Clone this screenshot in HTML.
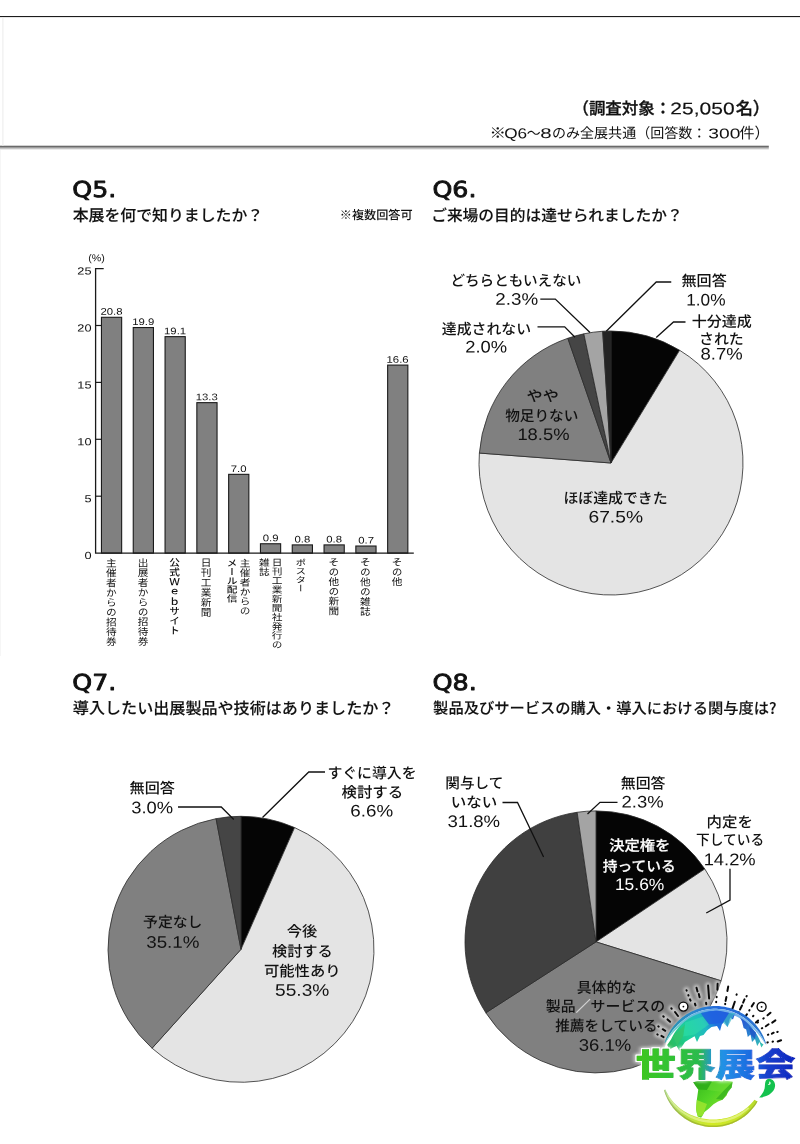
<!DOCTYPE html>
<html lang="ja">
<head>
<meta charset="utf-8">
<title>来場者アンケート Q5-Q8</title>
<style>
html,body{margin:0;padding:0;background:#fff}
body{width:800px;height:1144px;overflow:hidden;font-family:"Liberation Sans","Noto Sans CJK JP",sans-serif}
svg{display:block}
text{white-space:pre}
</style>
</head>
<body>
<svg width="800" height="1144" viewBox="0 0 800 1144">
<rect width="800" height="1144" fill="#fff"/>
<g id="shapes">
<rect x="0" y="16" width="800" height="1.1" fill="#1c1c1c"/>
<rect x="0" y="145.7" width="768.8" height="1.3" fill="#6a6a6a"/>
<rect x="0" y="147" width="768.8" height="1" fill="#9c9c9c"/>
<rect x="0" y="148" width="768.8" height="1" fill="#c4c4c4"/>
<rect x="0" y="149" width="768.8" height="0.8" fill="#e6e6e6"/>
<rect x="2.4" y="17" width="1" height="129" fill="#ececec"/>
<rect x="0" y="150" width="1" height="506" fill="#f6f6f6"/>
<rect x="101.45" y="317.30" width="20.20" height="235.80" fill="#808080" stroke="#1a1a1a" stroke-width="1.1"/>
<rect x="133.25" y="327.54" width="20.20" height="225.56" fill="#808080" stroke="#1a1a1a" stroke-width="1.1"/>
<rect x="165.05" y="336.64" width="20.20" height="216.46" fill="#808080" stroke="#1a1a1a" stroke-width="1.1"/>
<rect x="196.85" y="402.65" width="20.20" height="150.45" fill="#808080" stroke="#1a1a1a" stroke-width="1.1"/>
<rect x="228.65" y="474.34" width="20.20" height="78.76" fill="#808080" stroke="#1a1a1a" stroke-width="1.1"/>
<rect x="260.45" y="543.76" width="20.20" height="9.34" fill="#808080" stroke="#1a1a1a" stroke-width="1.1"/>
<rect x="292.25" y="544.90" width="20.20" height="8.20" fill="#808080" stroke="#1a1a1a" stroke-width="1.1"/>
<rect x="324.05" y="544.90" width="20.20" height="8.20" fill="#808080" stroke="#1a1a1a" stroke-width="1.1"/>
<rect x="355.85" y="546.03" width="20.20" height="7.07" fill="#808080" stroke="#1a1a1a" stroke-width="1.1"/>
<rect x="387.65" y="365.09" width="20.20" height="188.01" fill="#808080" stroke="#1a1a1a" stroke-width="1.1"/>
<path d="M103.7 268.6H95.6V553.1H413.8" fill="none" stroke="#1a1a1a" stroke-width="1.3"/>
<path d="M95.6 325.50H101" stroke="#1a1a1a" stroke-width="1.2"/>
<path d="M95.6 382.40H101" stroke="#1a1a1a" stroke-width="1.2"/>
<path d="M95.6 439.30H101" stroke="#1a1a1a" stroke-width="1.2"/>
<path d="M95.6 496.20H101" stroke="#1a1a1a" stroke-width="1.2"/>
<path d="M611 463L611.00 331.00A132 132 0 0 1 679.62 350.24Z" fill="#050505" stroke="#2a2a2a" stroke-width="0.8" stroke-linejoin="round"/>
<path d="M611 463L679.62 350.24A132 132 0 1 1 479.38 453.06Z" fill="#e4e4e4" stroke="#2a2a2a" stroke-width="0.8" stroke-linejoin="round"/>
<path d="M611 463L479.38 453.06A132 132 0 0 1 567.85 338.25Z" fill="#808080" stroke="#2a2a2a" stroke-width="0.8" stroke-linejoin="round"/>
<path d="M611 463L567.85 338.25A132 132 0 0 1 583.83 333.83Z" fill="#454545" stroke="#2a2a2a" stroke-width="0.8" stroke-linejoin="round"/>
<path d="M611 463L583.83 333.83A132 132 0 0 1 602.71 331.26Z" fill="#a4a4a4" stroke="#2a2a2a" stroke-width="0.8" stroke-linejoin="round"/>
<path d="M611 463L602.71 331.26A132 132 0 0 1 611.00 331.00Z" fill="#242424" stroke="#2a2a2a" stroke-width="0.8" stroke-linejoin="round"/>
<path d="M241 949.3L241.00 816.30A133 133 0 0 1 294.59 827.57Z" fill="#050505" stroke="#2a2a2a" stroke-width="0.8" stroke-linejoin="round"/>
<path d="M241 949.3L294.59 827.57A133 133 0 1 1 152.09 1048.22Z" fill="#e4e4e4" stroke="#2a2a2a" stroke-width="0.8" stroke-linejoin="round"/>
<path d="M241 949.3L152.09 1048.22A133 133 0 0 1 216.08 818.66Z" fill="#808080" stroke="#2a2a2a" stroke-width="0.8" stroke-linejoin="round"/>
<path d="M241 949.3L216.08 818.66A133 133 0 0 1 241.00 816.30Z" fill="#454545" stroke="#2a2a2a" stroke-width="0.8" stroke-linejoin="round"/>
<path d="M596 941.9L596.00 810.90A131 131 0 0 1 704.81 868.95Z" fill="#050505" stroke="#2a2a2a" stroke-width="0.8" stroke-linejoin="round"/>
<path d="M596 941.9L704.81 868.95A131 131 0 0 1 721.09 980.81Z" fill="#e4e4e4" stroke="#2a2a2a" stroke-width="0.8" stroke-linejoin="round"/>
<path d="M596 941.9L721.09 980.81A131 131 0 0 1 485.84 1012.79Z" fill="#808080" stroke="#2a2a2a" stroke-width="0.8" stroke-linejoin="round"/>
<path d="M596 941.9L485.84 1012.79A131 131 0 0 1 577.13 812.27Z" fill="#404040" stroke="#2a2a2a" stroke-width="0.8" stroke-linejoin="round"/>
<path d="M596 941.9L577.13 812.27A131 131 0 0 1 596.00 810.90Z" fill="#a4a4a4" stroke="#2a2a2a" stroke-width="0.8" stroke-linejoin="round"/>
<path d="M540.3 299.1L555.3 299.1L590 332.5" fill="none" stroke="#111" stroke-width="1.3"/>
<path d="M537.5 326.9L564.7 326.9L575 337.2" fill="none" stroke="#111" stroke-width="1.3"/>
<path d="M671.25 282L656.25 282L606.25 331.25" fill="none" stroke="#111" stroke-width="1.3"/>
<path d="M685.5 322L673.5 322L656.25 337.5" fill="none" stroke="#111" stroke-width="1.3"/>
<path d="M178 807L221.25 807L233.75 819.5" fill="none" stroke="#111" stroke-width="1.3"/>
<path d="M325 772L308.75 772L262.5 817.5" fill="none" stroke="#111" stroke-width="1.3"/>
<path d="M502.5 802.5L517.5 802.5L543.6 857" fill="none" stroke="#111" stroke-width="1.3"/>
<path d="M617.5 802.3L600 802.3L587.5 814" fill="none" stroke="#111" stroke-width="1.3"/>
<path d="M730 868.75L730 900L706.25 913" fill="none" stroke="#111" stroke-width="1.3"/>
</g>
<g id="labels">
<text transform="matrix(1.0288 0.001 0 1.0288 572.43 114.16)" fill="#111" stroke="#111" stroke-width="0.32" stroke-linejoin="round" style="font-family:'Liberation Sans','Noto Sans CJK JP',sans-serif;font-size:16px;font-weight:500;">（調査対象：</text>
<text transform="matrix(1.2735 0.001 0 1.0114 670.34 114.23)" fill="#111" stroke="#111" stroke-width="0.15" stroke-linejoin="round" style="font-family:'Liberation Sans',sans-serif;font-size:16.5px;font-weight:400;">25,050</text>
<text transform="matrix(1.0762 0.001 0 1.0762 735.64 114.45)" fill="#111" stroke="#111" stroke-width="0.32" stroke-linejoin="round" style="font-family:'Liberation Sans','Noto Sans CJK JP',sans-serif;font-size:16px;font-weight:500;">名）</text>
<text transform="matrix(1.2051 0.001 0 1.0576 489.49 137.95)" fill="#111" style="font-family:'Liberation Sans','Noto Sans CJK JP',sans-serif;font-size:13.7px;font-weight:400;">※</text>
<text transform="matrix(1.2750 0.001 0 1.0632 504.15 138.22)" fill="#111" style="font-family:'Liberation Sans',sans-serif;font-size:13.5px;font-weight:400;">Q6</text>
<text transform="matrix(1.0135 0.001 0 1.0909 526.82 138.44)" fill="#111" style="font-family:'Liberation Sans','Noto Sans CJK JP',sans-serif;font-size:13.7px;font-weight:400;">〜</text>
<text transform="matrix(1.5162 0.001 0 1.0421 540.24 138.03)" fill="#111" style="font-family:'Liberation Sans',sans-serif;font-size:13.5px;font-weight:400;">8</text>
<text transform="matrix(1.0267 0.001 0 1.0267 551.90 138.00)" fill="#111" style="font-family:'Liberation Sans','Noto Sans CJK JP',sans-serif;font-size:13.7px;font-weight:400;">のみ全展共通（回答数：</text>
<text transform="matrix(1.4233 0.001 0 1.0421 708.29 138.13)" fill="#111" style="font-family:'Liberation Sans',sans-serif;font-size:13.5px;font-weight:400;">300</text>
<text transform="matrix(1.0962 0.001 0 1.0962 739.45 138.36)" fill="#111" style="font-family:'Liberation Sans','Noto Sans CJK JP',sans-serif;font-size:13.7px;font-weight:400;">件）</text>
<text transform="matrix(1.0991 0.001 0 0.9556 72.33 196.90)" fill="#111" stroke="#111" stroke-width="0.9" stroke-linejoin="round" style="font-family:'DejaVu Sans','Liberation Sans',sans-serif;font-size:23px;font-weight:400;">Q5.</text>
<text transform="matrix(1.1004 0.001 0 0.9556 432.38 196.90)" fill="#111" stroke="#111" stroke-width="0.9" stroke-linejoin="round" style="font-family:'DejaVu Sans','Liberation Sans',sans-serif;font-size:23px;font-weight:400;">Q6.</text>
<text transform="matrix(1.0991 0.001 0 0.9556 72.33 689.90)" fill="#111" stroke="#111" stroke-width="0.9" stroke-linejoin="round" style="font-family:'DejaVu Sans','Liberation Sans',sans-serif;font-size:23px;font-weight:400;">Q7.</text>
<text transform="matrix(1.1085 0.001 0 0.9556 432.38 689.90)" fill="#111" stroke="#111" stroke-width="0.9" stroke-linejoin="round" style="font-family:'DejaVu Sans','Liberation Sans',sans-serif;font-size:23px;font-weight:400;">Q8.</text>
<text transform="matrix(0.9931 0.001 0 0.9931 72.70 220.94)" fill="#111" stroke="#111" stroke-width="0.1" stroke-linejoin="round" style="font-family:'Liberation Sans','Noto Sans CJK JP',sans-serif;font-size:16px;font-weight:500;">本展を何で知りましたか？</text>
<text transform="matrix(0.9835 0.001 0 0.9835 431.17 220.88)" fill="#111" stroke="#111" stroke-width="0.1" stroke-linejoin="round" style="font-family:'Liberation Sans','Noto Sans CJK JP',sans-serif;font-size:16px;font-weight:500;">ご来場の目的は達せられましたか？</text>
<text transform="matrix(1.0062 0.001 0 1.0062 72.83 713.82)" fill="#111" stroke="#111" stroke-width="0.1" stroke-linejoin="round" style="font-family:'Liberation Sans','Noto Sans CJK JP',sans-serif;font-size:16px;font-weight:500;">導入したい出展製品や技術はありましたか？</text>
<text transform="matrix(0.9555 0.001 0 0.9555 433.12 713.51)" fill="#111" stroke="#111" stroke-width="0.1" stroke-linejoin="round" style="font-family:'Noto Sans CJK JP',sans-serif;font-size:16px;font-weight:500;">製品及びサービスの購入・導入における関与度は?</text>
<text transform="matrix(1.0393 0.001 0 1.0393 339.77 219.28)" fill="#111" style="font-family:'Liberation Sans','Noto Sans CJK JP',sans-serif;font-size:11.7px;font-weight:500;">※複数回答可</text>
<text transform="matrix(1.2787 0.001 0 1.0286 77.36 274.60)" fill="#111" style="font-family:'Liberation Sans',sans-serif;font-size:10px;font-weight:400;">25</text>
<text transform="matrix(1.2787 0.001 0 1.0286 77.36 331.50)" fill="#111" style="font-family:'Liberation Sans',sans-serif;font-size:10px;font-weight:400;">20</text>
<text transform="matrix(1.2787 0.001 0 1.0286 77.36 388.40)" fill="#111" style="font-family:'Liberation Sans',sans-serif;font-size:10px;font-weight:400;">15</text>
<text transform="matrix(1.2787 0.001 0 1.0286 77.36 445.30)" fill="#111" style="font-family:'Liberation Sans',sans-serif;font-size:10px;font-weight:400;">10</text>
<text transform="matrix(1.2787 0.001 0 1.0286 84.39 502.20)" fill="#111" style="font-family:'Liberation Sans',sans-serif;font-size:10px;font-weight:400;">5</text>
<text transform="matrix(1.2787 0.001 0 1.0286 84.39 559.10)" fill="#111" style="font-family:'Liberation Sans',sans-serif;font-size:10px;font-weight:400;">0</text>
<text transform="matrix(1.2575 0.001 0 1.1745 88.17 261.14)" fill="#111" style="font-family:'Liberation Sans',sans-serif;font-size:8.5px;font-weight:400;">(%)</text>
<text transform="matrix(1.2600 0.001 0 1.0579 100.42 314.85)" fill="#111" style="font-family:'Liberation Sans',sans-serif;font-size:9px;font-weight:400;">20.8</text>
<text transform="matrix(1.2600 0.001 0 1.0579 132.22 325.09)" fill="#111" style="font-family:'Liberation Sans',sans-serif;font-size:9px;font-weight:400;">19.9</text>
<text transform="matrix(1.2600 0.001 0 1.0579 164.02 334.19)" fill="#111" style="font-family:'Liberation Sans',sans-serif;font-size:9px;font-weight:400;">19.1</text>
<text transform="matrix(1.2600 0.001 0 1.0579 195.72 400.20)" fill="#111" style="font-family:'Liberation Sans',sans-serif;font-size:9px;font-weight:400;">13.3</text>
<text transform="matrix(1.2600 0.001 0 1.0579 230.77 471.89)" fill="#111" style="font-family:'Liberation Sans',sans-serif;font-size:9px;font-weight:400;">7.0</text>
<text transform="matrix(1.2600 0.001 0 1.0579 262.78 541.31)" fill="#111" style="font-family:'Liberation Sans',sans-serif;font-size:9px;font-weight:400;">0.9</text>
<text transform="matrix(1.2600 0.001 0 1.0579 294.48 542.45)" fill="#111" style="font-family:'Liberation Sans',sans-serif;font-size:9px;font-weight:400;">0.8</text>
<text transform="matrix(1.2600 0.001 0 1.0579 326.27 542.45)" fill="#111" style="font-family:'Liberation Sans',sans-serif;font-size:9px;font-weight:400;">0.8</text>
<text transform="matrix(1.2600 0.001 0 1.0579 358.18 543.58)" fill="#111" style="font-family:'Liberation Sans',sans-serif;font-size:9px;font-weight:400;">0.7</text>
<text transform="matrix(1.2600 0.001 0 1.0579 386.52 362.64)" fill="#111" style="font-family:'Liberation Sans',sans-serif;font-size:9px;font-weight:400;">16.6</text>
<text transform="matrix(1.1000 0.001 0 1.0125 110.24 558.11)" fill="#111" style="font-family:'Liberation Sans','Noto Sans CJK JP',sans-serif;font-size:9.7px;font-weight:400;writing-mode:vertical-rl;">主催者からの招待券</text>
<text transform="matrix(1.1000 0.001 0 1.0110 142.10 557.94)" fill="#111" style="font-family:'Liberation Sans','Noto Sans CJK JP',sans-serif;font-size:9.7px;font-weight:400;writing-mode:vertical-rl;">出展者からの招待券</text>
<text transform="matrix(1.1000 0.001 0 1.0000 173.55 557.53)" fill="#111" style="font-family:'Liberation Sans','Noto Sans CJK JP',sans-serif;font-size:9.7px;font-weight:500;writing-mode:vertical-rl;">公式Ｗｅｂサイト</text>
<text transform="matrix(1.1000 0.001 0 1.0276 205.15 557.47)" fill="#111" style="font-family:'Liberation Sans','Noto Sans CJK JP',sans-serif;font-size:9.7px;font-weight:400;writing-mode:vertical-rl;">日刊工業新聞</text>
<text transform="matrix(1.1000 0.001 0 0.9818 243.94 558.27)" fill="#111" style="font-family:'Liberation Sans','Noto Sans CJK JP',sans-serif;font-size:9.7px;font-weight:400;writing-mode:vertical-rl;">主催者からの</text>
<text transform="matrix(1.1000 0.001 0 0.9170 231.44 558.33)" fill="#111" style="font-family:'Liberation Sans','Noto Sans CJK JP',sans-serif;font-size:9.7px;font-weight:500;writing-mode:vertical-rl;">メール配信</text>
<text transform="matrix(1.1000 0.001 0 0.9421 275.94 557.66)" fill="#111" style="font-family:'Liberation Sans','Noto Sans CJK JP',sans-serif;font-size:9.7px;font-weight:400;writing-mode:vertical-rl;">日刊工業新聞社発行の</text>
<text transform="matrix(1.1000 0.001 0 0.9459 263.35 557.98)" fill="#111" style="font-family:'Liberation Sans','Noto Sans CJK JP',sans-serif;font-size:9.7px;font-weight:400;writing-mode:vertical-rl;">雑誌</text>
<text transform="matrix(1.1000 0.001 0 0.8744 300.35 558.31)" fill="#111" style="font-family:'Liberation Sans','Noto Sans CJK JP',sans-serif;font-size:9.7px;font-weight:400;writing-mode:vertical-rl;">ポスター</text>
<text transform="matrix(1.1000 0.001 0 1.0094 332.84 557.02)" fill="#111" style="font-family:'Liberation Sans','Noto Sans CJK JP',sans-serif;font-size:9.7px;font-weight:400;writing-mode:vertical-rl;">その他の新聞</text>
<text transform="matrix(1.1000 0.001 0 1.0177 364.34 557.01)" fill="#111" style="font-family:'Liberation Sans','Noto Sans CJK JP',sans-serif;font-size:9.7px;font-weight:400;writing-mode:vertical-rl;">その他の雑誌</text>
<text transform="matrix(1.1000 0.001 0 1.0109 396.04 557.02)" fill="#111" style="font-family:'Liberation Sans','Noto Sans CJK JP',sans-serif;font-size:9.7px;font-weight:400;writing-mode:vertical-rl;">その他</text>
<text transform="matrix(0.9987 0.001 0 1.0100 450.42 285.64)" fill="#111" style="font-family:'Liberation Sans','Noto Sans CJK JP',sans-serif;font-size:14.6px;font-weight:500;">どちらともいえない</text>
<text transform="matrix(1.1899 0.001 0 1.0567 495.26 304.65)" fill="#111" style="font-family:'Liberation Sans',sans-serif;font-size:15.8px;font-weight:400;">2.3%</text>
<text transform="matrix(1.0203 0.001 0 1.0100 441.74 334.13)" fill="#111" style="font-family:'Liberation Sans','Noto Sans CJK JP',sans-serif;font-size:14.6px;font-weight:500;">達成されない</text>
<text transform="matrix(1.1639 0.001 0 1.0567 465.28 352.55)" fill="#111" style="font-family:'Liberation Sans',sans-serif;font-size:15.8px;font-weight:400;">2.0%</text>
<text transform="matrix(1.0331 0.001 0 1.0100 681.48 285.97)" fill="#111" style="font-family:'Liberation Sans','Noto Sans CJK JP',sans-serif;font-size:14.6px;font-weight:500;">無回答</text>
<text transform="matrix(1.0922 0.001 0 1.0567 686.23 305.57)" fill="#111" style="font-family:'Liberation Sans',sans-serif;font-size:15.8px;font-weight:400;">1.0%</text>
<text transform="matrix(1.0307 0.001 0 1.0100 691.64 326.81)" fill="#111" style="font-family:'Liberation Sans','Noto Sans CJK JP',sans-serif;font-size:14.6px;font-weight:500;">十分達成</text>
<text transform="matrix(1.0227 0.001 0 1.0100 699.03 344.14)" fill="#111" style="font-family:'Liberation Sans','Noto Sans CJK JP',sans-serif;font-size:14.6px;font-weight:500;">された</text>
<text transform="matrix(1.1699 0.001 0 1.0567 700.47 359.42)" fill="#111" style="font-family:'Liberation Sans',sans-serif;font-size:15.8px;font-weight:400;">8.7%</text>
<text transform="matrix(1.1043 0.001 0 1.0100 526.58 401.24)" fill="#111" style="font-family:'Liberation Sans','Noto Sans CJK JP',sans-serif;font-size:14.6px;font-weight:500;">やや</text>
<text transform="matrix(1.0047 0.001 0 1.0100 505.17 420.89)" fill="#111" style="font-family:'Liberation Sans','Noto Sans CJK JP',sans-serif;font-size:14.6px;font-weight:500;">物足りない</text>
<text transform="matrix(1.1628 0.001 0 1.0567 517.39 440.07)" fill="#111" style="font-family:'Liberation Sans',sans-serif;font-size:15.8px;font-weight:400;">18.5%</text>
<text transform="matrix(1.0193 0.001 0 1.0100 563.47 503.31)" fill="#111" style="font-family:'Liberation Sans','Noto Sans CJK JP',sans-serif;font-size:14.6px;font-weight:500;">ほぼ達成できた</text>
<text transform="matrix(1.2196 0.001 0 1.0567 588.43 522.52)" fill="#111" style="font-family:'Liberation Sans',sans-serif;font-size:15.8px;font-weight:400;">67.5%</text>
<text transform="matrix(1.0389 0.001 0 1.0100 129.48 793.22)" fill="#111" style="font-family:'Liberation Sans','Noto Sans CJK JP',sans-serif;font-size:14.6px;font-weight:500;">無回答</text>
<text transform="matrix(1.1627 0.001 0 1.0567 131.22 813.22)" fill="#111" style="font-family:'Liberation Sans',sans-serif;font-size:15.8px;font-weight:400;">3.0%</text>
<text transform="matrix(1.0187 0.001 0 1.0100 327.39 778.14)" fill="#111" style="font-family:'Liberation Sans','Noto Sans CJK JP',sans-serif;font-size:14.6px;font-weight:500;">すぐに導入を</text>
<text transform="matrix(1.0580 0.001 0 1.0100 341.47 797.55)" fill="#111" style="font-family:'Liberation Sans','Noto Sans CJK JP',sans-serif;font-size:14.6px;font-weight:500;">検討する</text>
<text transform="matrix(1.1899 0.001 0 1.0567 350.26 816.60)" fill="#111" style="font-family:'Liberation Sans',sans-serif;font-size:15.8px;font-weight:400;">6.6%</text>
<text transform="matrix(1.0163 0.001 0 1.0100 143.07 927.28)" fill="#111" style="font-family:'Liberation Sans','Noto Sans CJK JP',sans-serif;font-size:14.6px;font-weight:500;">予定なし</text>
<text transform="matrix(1.1897 0.001 0 1.0567 146.21 947.65)" fill="#111" style="font-family:'Liberation Sans',sans-serif;font-size:15.8px;font-weight:400;">35.1%</text>
<text transform="matrix(1.0482 0.001 0 1.0100 286.78 936.50)" fill="#111" style="font-family:'Liberation Sans','Noto Sans CJK JP',sans-serif;font-size:14.6px;font-weight:500;">今後</text>
<text transform="matrix(1.0411 0.001 0 1.0100 271.98 956.45)" fill="#111" style="font-family:'Liberation Sans','Noto Sans CJK JP',sans-serif;font-size:14.6px;font-weight:500;">検討する</text>
<text transform="matrix(1.0500 0.001 0 1.0100 263.93 976.19)" fill="#111" style="font-family:'Liberation Sans','Noto Sans CJK JP',sans-serif;font-size:14.6px;font-weight:500;">可能性あり</text>
<text transform="matrix(1.2138 0.001 0 1.0567 274.99 995.82)" fill="#111" style="font-family:'Liberation Sans',sans-serif;font-size:15.8px;font-weight:400;">55.3%</text>
<text transform="matrix(1.0018 0.001 0 1.0100 445.33 788.14)" fill="#111" style="font-family:'Liberation Sans','Noto Sans CJK JP',sans-serif;font-size:14.6px;font-weight:500;">関与して</text>
<text transform="matrix(1.0640 0.001 0 1.0100 450.83 807.43)" fill="#111" style="font-family:'Liberation Sans','Noto Sans CJK JP',sans-serif;font-size:14.6px;font-weight:500;">いない</text>
<text transform="matrix(1.1759 0.001 0 1.0567 447.47 826.97)" fill="#111" style="font-family:'Liberation Sans',sans-serif;font-size:15.8px;font-weight:400;">31.8%</text>
<text transform="matrix(1.0214 0.001 0 1.0100 620.74 788.47)" fill="#111" style="font-family:'Liberation Sans','Noto Sans CJK JP',sans-serif;font-size:14.6px;font-weight:500;">無回答</text>
<text transform="matrix(1.1683 0.001 0 1.0567 621.53 807.60)" fill="#111" style="font-family:'Liberation Sans',sans-serif;font-size:15.8px;font-weight:400;">2.3%</text>
<text transform="matrix(1.0592 0.001 0 1.0100 706.59 827.18)" fill="#111" style="font-family:'Liberation Sans','Noto Sans CJK JP',sans-serif;font-size:14.6px;font-weight:500;">内定を</text>
<text transform="matrix(0.9373 0.001 0 1.0100 696.12 844.97)" fill="#111" style="font-family:'Liberation Sans','Noto Sans CJK JP',sans-serif;font-size:14.6px;font-weight:500;">下している</text>
<text transform="matrix(1.1628 0.001 0 1.0727 703.64 865.27)" fill="#111" style="font-family:'Liberation Sans',sans-serif;font-size:15.8px;font-weight:400;">14.2%</text>
<text transform="matrix(1.0487 0.001 0 1.0100 609.15 850.64)" fill="#fff" stroke="#fff" stroke-width="0.2" stroke-linejoin="round" style="font-family:'Liberation Sans','Noto Sans CJK JP',sans-serif;font-size:14.6px;font-weight:500;">決定権を</text>
<text transform="matrix(1.0107 0.001 0 1.0100 602.66 871.43)" fill="#fff" stroke="#fff" stroke-width="0.2" stroke-linejoin="round" style="font-family:'Liberation Sans','Noto Sans CJK JP',sans-serif;font-size:14.6px;font-weight:500;">持っている</text>
<text transform="matrix(1.1047 0.001 0 1.0567 614.91 890.10)" fill="#fff" style="font-family:'Liberation Sans',sans-serif;font-size:15.8px;font-weight:400;">15.6%</text>
<text transform="matrix(1.0235 0.001 0 1.0100 576.65 992.64)" fill="#111" style="font-family:'Liberation Sans','Noto Sans CJK JP',sans-serif;font-size:14.6px;font-weight:500;">具体的な</text>
<text transform="matrix(1.0215 0.001 0 1.0100 545.82 1011.51)" fill="#111" style="font-family:'Liberation Sans','Noto Sans CJK JP',sans-serif;font-size:14.6px;font-weight:500;">製品<tspan fill="#dcdcdc" stroke="#dcdcdc" stroke-width="0.3">／</tspan>サービスの</text>
<text transform="matrix(1.0070 0.001 0 1.0100 555.16 1030.89)" fill="#111" style="font-family:'Liberation Sans','Noto Sans CJK JP',sans-serif;font-size:14.6px;font-weight:500;">推薦をしている</text>
<text transform="matrix(1.1724 0.001 0 1.0567 578.72 1050.72)" fill="#111" style="font-family:'Liberation Sans',sans-serif;font-size:15.8px;font-weight:400;">36.1%</text>
</g>
<g id="watermark">
<defs>
<filter id="wmGlow" x="-20%" y="-20%" width="140%" height="140%"><feGaussianBlur stdDeviation="3"/></filter>
<filter id="wmGlow2" x="-20%" y="-20%" width="140%" height="140%"><feGaussianBlur stdDeviation="1.8"/></filter>
<filter id="wmTextFx" x="-5%" y="-25%" width="110%" height="150%">
<feMorphology in="SourceAlpha" operator="dilate" radius="1.15" result="d"/>
<feGaussianBlur in="d" stdDeviation="0.35" result="d2"/>
<feFlood flood-color="#fff" result="w"/>
<feComposite in="w" in2="d2" operator="in" result="outline"/>
<feMorphology in="SourceAlpha" operator="dilate" radius="2" result="e"/>
<feGaussianBlur in="e" stdDeviation="1.8" result="e2"/>
<feFlood flood-color="#fff" flood-opacity="0.7" result="w2"/>
<feComposite in="w2" in2="e2" operator="in" result="glow"/>
<feMerge><feMergeNode in="glow"/><feMergeNode in="outline"/><feMergeNode in="SourceGraphic"/></feMerge>
</filter>
<linearGradient id="wmText" x1="0" y1="0" x2="1" y2="0">
<stop offset="0" stop-color="#3fc61e"/><stop offset="0.25" stop-color="#2fc238"/><stop offset="0.40" stop-color="#2cba50"/><stop offset="0.47" stop-color="#279cc0"/><stop offset="0.55" stop-color="#2390e6"/><stop offset="0.74" stop-color="#1c66e0"/><stop offset="0.82" stop-color="#1440cc"/><stop offset="1" stop-color="#1026c0"/>
</linearGradient>
<linearGradient id="wmRing" gradientUnits="userSpaceOnUse" x1="662" y1="0" x2="768" y2="0">
<stop offset="0" stop-color="#2a9aa8"/><stop offset="0.3" stop-color="#2c86cc"/><stop offset="0.55" stop-color="#2368dc"/><stop offset="1" stop-color="#2c78cc"/>
</linearGradient>
<linearGradient id="wmRingIn" gradientUnits="userSpaceOnUse" x1="662" y1="0" x2="768" y2="0">
<stop offset="0" stop-color="#6fd8c4"/><stop offset="0.45" stop-color="#6aa8ea"/><stop offset="1" stop-color="#86c2ec"/>
</linearGradient>
<linearGradient id="wmLand" gradientUnits="userSpaceOnUse" x1="668" y1="1046" x2="732" y2="1012">
<stop offset="0" stop-color="#2cb856"/><stop offset="0.3" stop-color="#1ccf98"/><stop offset="0.58" stop-color="#20b8c4"/><stop offset="0.72" stop-color="#1f72e0"/><stop offset="1" stop-color="#2a5fd6"/>
</linearGradient>
<linearGradient id="wmLand2" gradientUnits="userSpaceOnUse" x1="744" y1="1022" x2="762" y2="1046">
<stop offset="0" stop-color="#265ed2"/><stop offset="0.55" stop-color="#2c8cd0"/><stop offset="1" stop-color="#36c4b0"/>
</linearGradient>
<linearGradient id="wmSA" gradientUnits="userSpaceOnUse" x1="694" y1="1082" x2="724" y2="1112">
<stop offset="0" stop-color="#36b81c"/><stop offset="0.5" stop-color="#52d426"/><stop offset="1" stop-color="#86de2a"/>
</linearGradient>
<linearGradient id="wmLow" gradientUnits="userSpaceOnUse" x1="663" y1="0" x2="759" y2="0">
<stop offset="0" stop-color="#b4dca0"/><stop offset="0.22" stop-color="#b6e04a"/><stop offset="0.5" stop-color="#d2ea26"/><stop offset="0.8" stop-color="#c6e42a"/><stop offset="1" stop-color="#b4da2c"/>
</linearGradient>
</defs>
<g filter="url(#wmGlow2)" opacity="0.7"><circle cx="715.2" cy="1059.2" r="53.3" fill="#fff"/><circle cx="713.2" cy="1075.9" r="51.7" fill="#fff"/></g>
<circle cx="715.2" cy="1059.2" r="51.8" fill="#fff"/>
<circle cx="713.2" cy="1075.9" r="50.2" fill="#fff"/>
<g stroke="#fff" stroke-width="6" stroke-linecap="round" fill="none" opacity="0.55" filter="url(#wmGlow2)"><path d="M663.6 1037.1L661.4 1035.9"/><path d="M657.7 1034.6L657.3 1034.4"/><path d="M665.3 1030.8L662.7 1029.2"/><path d="M658.7 1026.6L658.3 1026.4"/><path d="M670.1 1021.8L667.5 1019.4"/><path d="M663.7 1016.7L663.3 1016.3"/><path d="M678.0 1016.0L675.0 1012.0"/><path d="M671.7 1008.7L671.3 1008.3"/><path d="M688.5 995.5L688.3 995.1"/><path d="M690.6 1000.7L690.0 999.3"/><path d="M686.7 990.6L686.5 990.2"/><path d="M697.5 991.6L696.5 987.8"/><path d="M699.6 997.3L698.8 993.9"/><path d="M695.5 1005.4L694.9 1003.6"/><path d="M709.1 998.5L708.1 985.5"/><path d="M706.3 1004.2L706.1 1002.8"/><path d="M717.4 989.8L717.6 983.8"/><path d="M716.6 997.2L716.6 996.8"/><path d="M716.2 1002.2L716.2 1001.8"/><path d="M727.4 991.0L728.2 986.6"/><path d="M725.6 1001.0L726.4 997.0"/><path d="M725.2 1004.2L725.2 1003.8"/><path d="M732.2 1009.4L734.8 1001.8"/><path d="M736.5 994.8L736.7 994.4"/><path d="M746.5 996.4L746.7 996.0"/><path d="M743.1 1002.6L744.5 999.4"/><path d="M740.0 1009.5L742.0 1005.5"/><path d="M738.5 1012.6L738.7 1012.2"/><path d="M751.7 1006.4L753.9 1003.0"/><path d="M749.3 1010.5L749.5 1010.1"/><path d="M745.8 1015.8L747.0 1014.2"/><path d="M753.0 1016.2L753.4 1015.8"/><path d="M755.9 1022.5L758.1 1020.5"/><path d="M767.5 1015.3L770.5 1012.7"/><path d="M757.6 1022.6L758.0 1022.2"/><path d="M763.3 1018.6L763.7 1018.2"/><path d="M772.2 1022.6L775.4 1020.4"/><path d="M765.8 1026.3L768.6 1024.3"/><path d="M761.8 1028.3L762.2 1028.1"/><path d="M777.3 1032.0L777.7 1031.8"/><path d="M767.9 1034.8L768.3 1034.6"/><path d="M771.9 1033.7L773.7 1032.7"/><path d="M777.7 1041.5L781.1 1040.3"/><path d="M772.6 1041.7L773.0 1041.5"/><path d="M767.4 1042.5L767.8 1042.3"/></g>
<g stroke="#0a0a0a" stroke-width="2" stroke-linecap="round" fill="none"><path d="M663.6 1037.1L661.4 1035.9"/><path d="M657.7 1034.6L657.3 1034.4"/><path d="M665.3 1030.8L662.7 1029.2"/><path d="M658.7 1026.6L658.3 1026.4"/><path d="M670.1 1021.8L667.5 1019.4"/><path d="M663.7 1016.7L663.3 1016.3"/><path d="M678.0 1016.0L675.0 1012.0"/><path d="M671.7 1008.7L671.3 1008.3"/><path d="M688.5 995.5L688.3 995.1"/><path d="M690.6 1000.7L690.0 999.3"/><path d="M686.7 990.6L686.5 990.2"/><path d="M697.5 991.6L696.5 987.8"/><path d="M699.6 997.3L698.8 993.9"/><path d="M695.5 1005.4L694.9 1003.6"/><path d="M709.1 998.5L708.1 985.5"/><path d="M706.3 1004.2L706.1 1002.8"/><path d="M717.4 989.8L717.6 983.8"/><path d="M716.6 997.2L716.6 996.8"/><path d="M716.2 1002.2L716.2 1001.8"/><path d="M727.4 991.0L728.2 986.6"/><path d="M725.6 1001.0L726.4 997.0"/><path d="M725.2 1004.2L725.2 1003.8"/><path d="M732.2 1009.4L734.8 1001.8"/><path d="M736.5 994.8L736.7 994.4"/><path d="M746.5 996.4L746.7 996.0"/><path d="M743.1 1002.6L744.5 999.4"/><path d="M740.0 1009.5L742.0 1005.5"/><path d="M738.5 1012.6L738.7 1012.2"/><path d="M751.7 1006.4L753.9 1003.0"/><path d="M749.3 1010.5L749.5 1010.1"/><path d="M745.8 1015.8L747.0 1014.2"/><path d="M753.0 1016.2L753.4 1015.8"/><path d="M755.9 1022.5L758.1 1020.5"/><path d="M767.5 1015.3L770.5 1012.7"/><path d="M757.6 1022.6L758.0 1022.2"/><path d="M763.3 1018.6L763.7 1018.2"/><path d="M772.2 1022.6L775.4 1020.4"/><path d="M765.8 1026.3L768.6 1024.3"/><path d="M761.8 1028.3L762.2 1028.1"/><path d="M777.3 1032.0L777.7 1031.8"/><path d="M767.9 1034.8L768.3 1034.6"/><path d="M771.9 1033.7L773.7 1032.7"/><path d="M777.7 1041.5L781.1 1040.3"/><path d="M772.6 1041.7L773.0 1041.5"/><path d="M767.4 1042.5L767.8 1042.3"/><circle cx="683.4" cy="1006.6" r="4.5" fill="#fff" stroke="#0a0a0a" stroke-width="1.4"/><circle cx="683.4" cy="1006.6" r="0.9" fill="#0a0a0a" stroke="none"/><circle cx="761.6" cy="1006.8" r="4.5" fill="#fff" stroke="#0a0a0a" stroke-width="1.4"/><circle cx="761.6" cy="1006.8" r="0.9" fill="#0a0a0a" stroke="none"/></g>
<path d="M664.6 1042.8L665.5 1040.1L666.6 1037.5L667.9 1034.9L669.2 1032.5L670.7 1030.1L672.3 1027.7L674.0 1025.5L675.9 1023.4L677.8 1021.3L679.9 1019.4L682.1 1017.6L684.3 1015.9L686.6 1014.3L689.1 1012.9L691.6 1011.5L694.1 1010.4L696.8 1009.3L699.4 1008.4L702.1 1007.6L704.9 1007.0L707.7 1006.5L710.5 1006.2L713.3 1006.0L716.1 1006.0L718.9 1006.1L721.8 1006.4L724.6 1006.8L727.3 1007.4L730.0 1008.1L732.7 1009.0L735.4 1010.0L738.0 1011.1L740.5 1012.4L742.9 1013.8L745.3 1015.3L747.6 1017.0L749.8 1018.8L751.9 1020.7L753.9 1022.7L755.8 1024.8L757.5 1027.0L759.2 1029.3L760.7 1031.6L762.1 1034.1L763.4 1036.6L764.5 1039.2L765.5 1041.8L766.3 1044.5L766.0 1044.6L764.6 1042.1L763.4 1039.7L762.0 1037.2L760.6 1034.9L759.1 1032.6L757.4 1030.5L755.7 1028.4L753.8 1026.4L751.9 1024.5L749.9 1022.7L748.0 1020.9L745.9 1019.2L743.7 1017.6L741.5 1016.2L739.2 1014.9L736.8 1013.6L734.3 1012.6L731.8 1011.6L729.3 1010.8L726.7 1010.1L724.1 1009.6L721.4 1009.2L718.8 1008.9L716.1 1008.8L713.4 1008.8L710.7 1009.0L708.1 1009.3L705.4 1009.8L702.8 1010.3L700.3 1011.1L697.7 1011.9L695.2 1012.9L692.8 1014.0L690.4 1015.3L688.2 1016.7L685.9 1018.2L683.8 1019.8L681.7 1021.5L679.7 1023.3L677.7 1025.1L675.8 1027.0L674.0 1029.0L672.3 1031.1L670.7 1033.3L669.2 1035.6L667.7 1038.0L666.4 1040.4L665.0 1042.9Z" fill="url(#wmRing)"/>
<path d="M665.5 1042.1L666.8 1039.6L668.1 1037.3L669.6 1034.9L671.1 1032.7L672.7 1030.6L674.5 1028.5L676.3 1026.5L678.2 1024.7L680.1 1022.9L682.1 1021.2L684.2 1019.5L686.3 1017.9L688.5 1016.5L690.8 1015.1L693.1 1013.9L695.5 1012.8L698.0 1011.8L700.5 1011.0L703.0 1010.3L705.6 1009.7L708.2 1009.3L710.8 1009.0L713.4 1008.8L716.1 1008.8L718.7 1008.9L721.3 1009.2L724.0 1009.6L726.5 1010.1L729.1 1010.8L731.6 1011.5L734.1 1012.5L736.5 1013.5L738.9 1014.7L741.2 1016.0L743.4 1017.4L745.5 1018.9L747.6 1020.6L749.6 1022.3L751.5 1024.1L753.4 1026.0L755.3 1027.9L757.0 1029.9L758.6 1032.1L760.2 1034.3L761.6 1036.6L763.0 1038.9L764.3 1041.3L765.5 1043.8L765.2 1043.9L763.6 1041.6L762.1 1039.3L760.5 1037.1L758.9 1035.0L757.2 1033.0L755.4 1031.0L753.6 1029.2L751.7 1027.5L749.7 1025.9L747.8 1024.2L745.9 1022.6L744.0 1021.0L741.9 1019.6L739.8 1018.2L737.6 1017.0L735.4 1015.9L733.1 1014.9L730.8 1014.0L728.4 1013.3L726.0 1012.6L723.5 1012.1L721.0 1011.8L718.5 1011.5L716.0 1011.4L713.5 1011.4L711.0 1011.6L708.5 1011.9L706.1 1012.3L703.6 1012.8L701.2 1013.5L698.9 1014.3L696.5 1015.2L694.2 1016.2L692.0 1017.4L689.9 1018.7L687.8 1020.0L685.8 1021.5L683.8 1023.1L681.9 1024.7L679.9 1026.2L677.9 1027.9L676.0 1029.7L674.1 1031.5L672.4 1033.5L670.7 1035.5L669.0 1037.7L667.4 1039.9L665.7 1042.2Z" fill="url(#wmRingIn)"/>
<path d="M671.0 1039.5L672.1 1037.2L673.3 1035.0L674.6 1032.8L676.0 1030.8L677.6 1028.7L679.2 1026.8L681.0 1025.0L682.8 1023.2L684.7 1021.6L686.8 1020.0L688.8 1018.6L691.0 1017.3L693.2 1016.1L695.5 1015.0L697.9 1014.0L700.2 1013.2L702.7 1012.4L705.1 1011.9L707.6 1011.4L710.1 1011.1L712.7 1010.9L715.2 1010.8L717.7 1010.9L720.3 1011.1L722.8 1011.4L725.3 1011.9L727.7 1012.4L730.2 1013.2L732.5 1014.0L734.9 1015.0L735.5 1012.5L733.0 1019.5L730.2 1017.5L727.5 1027.0L724.4 1021.5L721.8 1024.5L720.0 1031.0L717.0 1026.0L711.5 1027.0L707.0 1030.5L703.5 1035.0L700.0 1036.0L697.0 1042.0L694.6 1036.3L689.0 1039.5L685.0 1042.0L682.0 1046.5L679.5 1051.0L676.6 1046.0L673.0 1047.5L669.5 1049.5L667.2 1045.0Z" fill="url(#wmLand)"/>
<path d="M701 1013L717 1010.4L729 1013L723 1022.6L709 1024.6Z" fill="#1f5fe0" opacity="0.8"/>
<path d="M685 1022.6L703 1016.6L709 1024.6L695 1034.6L683 1036.6Z" fill="#32e2aa" opacity="0.5"/>
<path d="M673 1036.6L685 1024.6L683 1036.6L677 1045.6Z" fill="#38c468" opacity="0.7"/>
<path d="M703 1016.6L701 1013L709 1024.6Z" fill="#1a4eb4" opacity="0.6"/>
<path d="M723 1022.6L729 1013L735 1013L727.5 1027Z" fill="#39b8c6" opacity="0.7"/>
<path d="M740.1 1017.7L743.0 1019.6L745.7 1021.6L748.2 1023.8L750.6 1026.2L752.8 1028.7L754.8 1031.4L756.7 1034.3L758.3 1037.2L759.8 1040.3L760.7 1042.6L763.5 1044.5L761.3 1047.5L759.6 1042.0L757.2 1046.0L755.0 1039.0L752.0 1042.0L750.5 1034.5L747.8 1037.0L746.2 1029.5L743.6 1028.0L742.0 1021.5Z" fill="url(#wmLand2)"/>
<path d="M749 1026.5L756 1032.5L755 1039L750.5 1034.5Z" fill="#1c4cc4" opacity="0.7"/>
<path d="M693.2 1082.3L700.0 1080.8L712.0 1081.6L724.0 1080.4L732.6 1081.7L731.6 1087.4L728.0 1091.2L726.6 1095.6L722.5 1099.8L718.0 1101.4L713.5 1104.3L709.0 1108.6L704.5 1112.1L702.6 1115.6L701.1 1117.8L697.8 1116.6L696.6 1112.5L696.0 1108.8L696.8 1100.0L698.3 1089.6L696.0 1086.5Z" fill="url(#wmSA)"/>
<path d="M693.2 1082.3L700 1080.8L712 1081.6L707 1090L698.3 1089.6Z" fill="#2aa818" opacity="0.75"/>
<path d="M712 1081.6L724 1080.4L732.6 1081.7L722.5 1092L707 1090Z" fill="#6edc34" opacity="0.5"/>
<path d="M722.5 1092L732.6 1081.7L731.6 1087.4L722.5 1099.8L716 1099Z" fill="#2fae1c" opacity="0.7"/>
<path d="M696.8 1100L707 1104L702.6 1115.6L697.8 1116.6L696 1108.8Z" fill="#a2e630" opacity="0.8"/>
<path d="M757.5 1101.5L756.5 1103.2L755.4 1104.9L754.3 1106.5L753.0 1108.1L751.7 1109.6L750.4 1111.1L749.0 1112.5L747.5 1113.9L746.0 1115.2L744.5 1116.4L742.9 1117.6L741.2 1118.7L739.5 1119.8L737.8 1120.8L736.0 1121.7L734.2 1122.6L732.4 1123.4L730.5 1124.1L728.7 1124.7L726.7 1125.3L724.8 1125.8L722.9 1126.2L720.9 1126.5L718.9 1126.8L716.9 1127.0L714.9 1127.1L712.9 1127.1L710.9 1127.0L708.9 1126.9L707.0 1126.7L705.0 1126.4L703.0 1126.1L701.1 1125.6L699.1 1125.1L697.2 1124.5L695.4 1123.9L693.5 1123.2L691.7 1122.4L689.9 1121.5L688.1 1120.5L686.4 1119.5L684.7 1118.4L683.1 1117.3L681.5 1116.1L679.9 1114.8L678.5 1113.5L677.0 1112.1L675.6 1110.7L674.3 1109.2L673.0 1107.7L671.8 1106.1L670.7 1104.4L669.6 1102.8L668.6 1101.0L667.6 1099.3L666.8 1097.5L666.0 1095.7L665.2 1093.8L664.6 1091.9L664.0 1090.0L665.5 1089.6L666.3 1091.4L667.2 1093.1L668.1 1094.8L669.1 1096.4L670.2 1098.0L671.3 1099.5L672.5 1101.0L673.7 1102.4L675.0 1103.8L676.3 1105.1L677.6 1106.3L679.0 1107.5L680.5 1108.7L681.9 1109.7L683.4 1110.8L685.0 1111.7L686.5 1112.6L688.1 1113.5L689.6 1114.2L691.2 1115.0L692.9 1115.6L694.5 1116.3L696.1 1116.8L697.8 1117.3L699.5 1117.8L701.1 1118.2L702.8 1118.5L704.5 1118.8L706.2 1119.1L707.9 1119.2L709.6 1119.4L711.3 1119.5L713.0 1119.5L714.7 1119.5L716.4 1119.4L718.1 1119.3L719.8 1119.1L721.5 1118.9L723.1 1118.6L724.8 1118.3L726.5 1117.9L728.2 1117.4L729.8 1116.9L731.4 1116.4L733.1 1115.8L734.7 1115.1L736.3 1114.4L737.9 1113.6L739.4 1112.7L740.9 1111.8L742.5 1110.9L743.9 1109.9L745.4 1108.8L746.8 1107.7L748.2 1106.5L749.5 1105.2L750.8 1103.9L752.1 1102.6L753.3 1101.2L754.4 1099.7Z" fill="url(#wmLow)"/>
<path d="M757.5 1101.5L756.5 1103.2L755.4 1104.9L754.3 1106.5L753.0 1108.1L751.7 1109.6L750.4 1111.1L749.0 1112.5L747.5 1113.9L746.0 1115.2L744.5 1116.4L742.9 1117.6L741.2 1118.7L739.5 1119.8L737.8 1120.8L736.0 1121.7L734.2 1122.6L732.4 1123.4L730.5 1124.1L728.7 1124.7L726.7 1125.3L724.8 1125.8L722.9 1126.2L720.9 1126.5L718.9 1126.8L716.9 1127.0L714.9 1127.1L712.9 1127.1L710.9 1127.0L708.9 1126.9L707.0 1126.7L705.0 1126.4L703.0 1126.1L701.1 1125.6L699.1 1125.1L697.2 1124.5L695.4 1123.9L693.5 1123.2L691.7 1122.4L689.9 1121.5L688.1 1120.5L686.4 1119.5L684.7 1118.4L683.1 1117.3L681.5 1116.1L679.9 1114.8L678.5 1113.5L677.0 1112.1L675.6 1110.7L674.3 1109.2L673.0 1107.7L671.8 1106.1L670.7 1104.4L669.6 1102.8L668.6 1101.0L667.6 1099.3L666.8 1097.5L666.0 1095.7L665.2 1093.8L664.6 1091.9L664.0 1090.0L664.4 1089.9L665.1 1091.8L665.8 1093.6L666.6 1095.4L667.4 1097.2L668.4 1098.9L669.3 1100.6L670.4 1102.3L671.5 1103.9L672.7 1105.4L673.9 1106.9L675.2 1108.4L676.6 1109.8L678.0 1111.2L679.4 1112.5L680.9 1113.7L682.4 1114.9L684.0 1116.1L685.6 1117.2L687.2 1118.2L688.9 1119.2L690.6 1120.1L692.3 1121.0L694.1 1121.8L695.9 1122.5L697.7 1123.1L699.6 1123.7L701.4 1124.2L703.3 1124.6L705.2 1125.0L707.1 1125.2L709.1 1125.4L711.0 1125.6L712.9 1125.6L714.9 1125.6L716.8 1125.5L718.7 1125.3L720.7 1125.0L722.6 1124.7L724.5 1124.3L726.3 1123.8L728.2 1123.3L730.0 1122.7L731.8 1122.0L733.6 1121.2L735.4 1120.4L737.1 1119.5L738.8 1118.5L740.4 1117.5L742.0 1116.4L743.6 1115.2L745.1 1114.0L746.5 1112.8L748.0 1111.5L749.4 1110.1L750.7 1108.7L752.0 1107.3L753.3 1105.8L754.5 1104.2L755.6 1102.6L756.7 1101.0Z" fill="#8c9a2c" opacity="0.55"/>
<path d="M749.3 1108.4L748.1 1109.5L746.9 1110.6L745.6 1111.6L744.3 1112.6L743.0 1113.6L741.7 1114.5L740.3 1115.4L738.9 1116.2L737.5 1117.0L736.0 1117.7L734.6 1118.4L733.1 1119.0L731.6 1119.6L730.1 1120.1L728.6 1120.6L727.1 1121.1L725.5 1121.5L724.0 1121.8L722.4 1122.1L720.8 1122.4L719.3 1122.6L717.7 1122.7L716.1 1122.8L714.5 1122.9L712.9 1122.9L711.3 1122.9L709.8 1122.8L708.2 1122.7L706.6 1122.5L705.0 1122.3L703.5 1122.0L701.9 1121.7L700.3 1121.3L698.8 1120.9L697.3 1120.5L695.8 1120.0L694.3 1119.4L692.8 1118.8L691.3 1118.2L689.8 1117.5L688.4 1116.7L687.0 1116.0L685.6 1115.1L684.2 1114.3L682.9 1113.3L681.6 1112.4L680.3 1111.4L679.0 1110.3L677.8 1109.2L676.6 1108.1L675.4 1106.9L674.3 1105.7L673.2 1104.4L672.2 1103.1L671.2 1101.8L670.2 1100.4L669.3 1099.0L668.5 1097.6L667.6 1096.1L666.9 1094.6L667.6 1094.3L668.4 1095.8L669.3 1097.2L670.2 1098.6L671.2 1099.9L672.2 1101.2L673.2 1102.4L674.3 1103.7L675.4 1104.8L676.6 1106.0L677.8 1107.0L679.0 1108.1L680.2 1109.1L681.5 1110.0L682.8 1111.0L684.1 1111.8L685.4 1112.7L686.8 1113.4L688.2 1114.2L689.5 1114.9L690.9 1115.5L692.3 1116.1L693.8 1116.7L695.2 1117.2L696.6 1117.7L698.1 1118.1L699.6 1118.5L701.0 1118.9L702.5 1119.2L704.0 1119.5L705.5 1119.7L707.0 1119.9L708.5 1120.1L709.9 1120.2L711.4 1120.2L712.9 1120.3L714.4 1120.2L715.9 1120.2L717.4 1120.1L718.9 1120.0L720.4 1119.8L721.9 1119.6L723.4 1119.3L724.9 1119.0L726.3 1118.7L727.8 1118.3L729.2 1117.8L730.7 1117.4L732.1 1116.8L733.5 1116.3L734.9 1115.7L736.3 1115.0L737.7 1114.3L739.1 1113.6L740.4 1112.8L741.8 1112.0L743.1 1111.1L744.3 1110.2L745.6 1109.3L746.8 1108.3L748.0 1107.3Z" fill="#f0f8a8" opacity="0.6"/>
<text transform="matrix(1.0498 0 0 0.8400 635.83 1076.08)" style="font-family:'Liberation Sans','Noto Sans CJK SC',sans-serif;font-size:38px;font-weight:900;" fill="url(#wmText)" stroke="url(#wmText)" stroke-width="1.1" stroke-linejoin="round" filter="url(#wmTextFx)">世界展会</text>
<path d="M769.4 1078.8C773.2 1079.2 775.6 1082.6 775 1086.6C774.2 1092.4 767.8 1097.2 759.2 1097.6C761.8 1095 763.6 1092 764.6 1088.6C765.2 1086 764.7 1083.8 765.5 1081.6C766.2 1079.6 767.8 1078.6 769.4 1078.8Z" fill="#14c24e"/>
<path d="M769 1081.4C770.6 1081.5 771.2 1083 770.3 1084.3C769.5 1085.3 768 1085.1 767.8 1084C768.9 1084.2 769.6 1083.3 769 1081.4Z" fill="#e4f8e8"/>
</g>
</svg>
</body>
</html>
